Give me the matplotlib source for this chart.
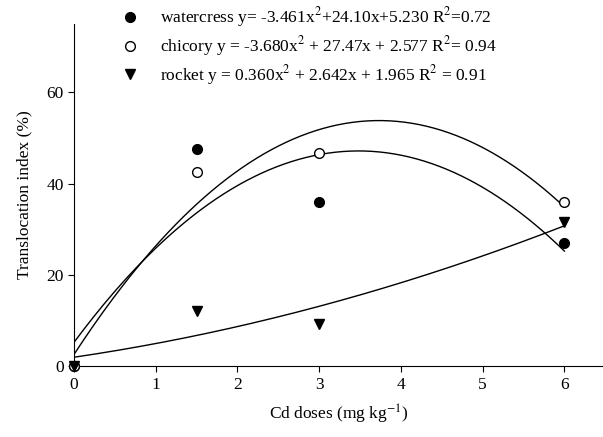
import matplotlib
matplotlib.use('Agg')
import matplotlib.pyplot as plt
import numpy as np

plt.rcParams['font.family'] = ['Liberation Serif', 'DejaVu Serif']
plt.rcParams['mathtext.fontset'] = 'stix'

doses = [0, 1.5, 3, 6]
watercress = [0, 47.5, 36.0, 27.0]
chicory = [0, 42.5, 46.8, 36.0]
rocket = [0, 12.0, 9.3, 31.5]

# quadratic fits (a, b, c) for y = a x^2 + b x + c
fit_watercress = [-3.461, 24.10, 5.230]
fit_chicory = [-3.680, 27.47, 2.577]
fit_rocket = [0.360, 2.642, 1.965]

labels = ['watercress y= -3.461x$^2$+24.10x+5.230 R$^2$=0.72',
          'chicory y = -3.680x$^2$ + 27.47x + 2.577 R$^2$= 0.94',
          'rocket y = 0.360x$^2$ + 2.642x + 1.965 R$^2$ = 0.91']

fig = plt.figure(figsize=(6.03, 4.37), dpi=100)
ax = fig.add_axes([0.1227, 0.162, 0.877, 0.783])

xs = np.linspace(0, 6, 200)
for fit in [fit_watercress, fit_chicory, fit_rocket]:
    ax.plot(xs, np.polyval(fit, xs), color='black', lw=1.0, zorder=2)

ax.plot(doses, watercress, 'o', color='black', ms=7, ls='', label=labels[0], zorder=3, clip_on=False)
ax.plot(doses, chicory, 'o', mfc='white', mec='black', mew=1.0, ms=7, ls='', label=labels[1], zorder=3, clip_on=False)
ax.plot(doses, rocket, 'v', color='black', ms=7, ls='', label=labels[2], zorder=3, clip_on=False)

ax.set_xlim(0, 6.47)
ax.set_ylim(0, 75)
ax.set_xticks([0, 1, 2, 3, 4, 5, 6])
ax.set_yticks([0, 20, 40, 60])
ax.spines['top'].set_visible(False)
ax.spines['right'].set_visible(False)
ax.tick_params(labelsize=12.5, direction='out', length=4)
ax.set_xlabel('Cd doses (mg kg$^{-1}$)', fontsize=12.5, labelpad=7)
ax.set_ylabel('Translocation index (%)', fontsize=12.5, labelpad=10)

leg = ax.legend(loc='upper left', bbox_to_anchor=(0.06, 1.075), frameon=False,
                fontsize=12.5, handletextpad=0.7, labelspacing=0.28, borderaxespad=0)

fig.savefig('out.png', dpi=100)
